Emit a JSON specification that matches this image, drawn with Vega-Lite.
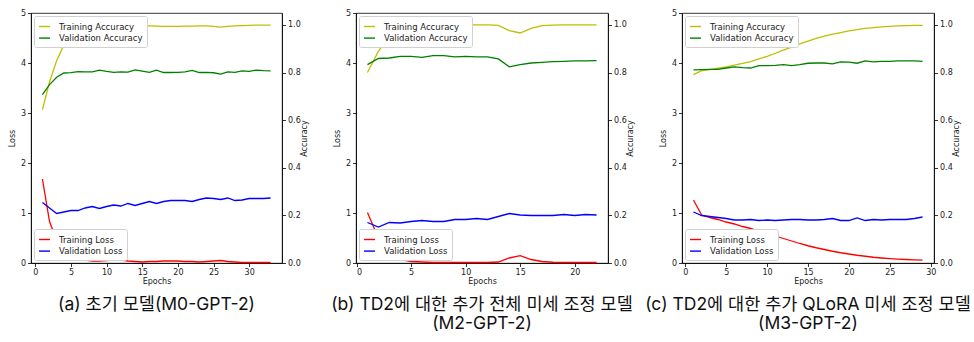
{
  "$schema": "https://vega.github.io/schema/vega-lite/v6.json",
  "background": "white",
  "padding": {"left": 8, "top": 8, "right": 0, "bottom": 0},
  "bounds": "flush",
  "spacing": 74,
  "datasets": {
    "a": [
      {"e":1,"Training Accuracy":0.644,"Validation Accuracy":0.707,"Training Loss":1.68,"Validation Loss":1.21},
      {"e":2,"Training Accuracy":0.76,"Validation Accuracy":0.749,"Training Loss":0.83,"Validation Loss":1.10},
      {"e":3,"Training Accuracy":0.85,"Validation Accuracy":0.78,"Training Loss":0.45,"Validation Loss":0.99},
      {"e":4,"Training Accuracy":0.915,"Validation Accuracy":0.798,"Training Loss":0.25,"Validation Loss":1.02},
      {"e":5,"Training Accuracy":0.96,"Validation Accuracy":0.800,"Training Loss":0.15,"Validation Loss":1.05},
      {"e":6,"Training Accuracy":0.98,"Validation Accuracy":0.804,"Training Loss":0.09,"Validation Loss":1.05},
      {"e":7,"Training Accuracy":0.99,"Validation Accuracy":0.803,"Training Loss":0.06,"Validation Loss":1.10},
      {"e":8,"Training Accuracy":0.995,"Validation Accuracy":0.803,"Training Loss":0.04,"Validation Loss":1.13},
      {"e":9,"Training Accuracy":0.997,"Validation Accuracy":0.810,"Training Loss":0.04,"Validation Loss":1.09},
      {"e":10,"Training Accuracy":0.998,"Validation Accuracy":0.805,"Training Loss":0.05,"Validation Loss":1.13},
      {"e":11,"Training Accuracy":0.998,"Validation Accuracy":0.801,"Training Loss":0.06,"Validation Loss":1.16},
      {"e":12,"Training Accuracy":0.999,"Validation Accuracy":0.803,"Training Loss":0.06,"Validation Loss":1.14},
      {"e":13,"Training Accuracy":0.999,"Validation Accuracy":0.802,"Training Loss":0.04,"Validation Loss":1.19},
      {"e":14,"Training Accuracy":0.998,"Validation Accuracy":0.811,"Training Loss":0.03,"Validation Loss":1.15},
      {"e":15,"Training Accuracy":0.997,"Validation Accuracy":0.806,"Training Loss":0.02,"Validation Loss":1.19},
      {"e":16,"Training Accuracy":0.996,"Validation Accuracy":0.801,"Training Loss":0.03,"Validation Loss":1.23},
      {"e":17,"Training Accuracy":0.995,"Validation Accuracy":0.810,"Training Loss":0.03,"Validation Loss":1.19},
      {"e":18,"Training Accuracy":0.994,"Validation Accuracy":0.800,"Training Loss":0.04,"Validation Loss":1.23},
      {"e":19,"Training Accuracy":0.994,"Validation Accuracy":0.800,"Training Loss":0.04,"Validation Loss":1.25},
      {"e":20,"Training Accuracy":0.994,"Validation Accuracy":0.801,"Training Loss":0.04,"Validation Loss":1.25},
      {"e":21,"Training Accuracy":0.995,"Validation Accuracy":0.803,"Training Loss":0.03,"Validation Loss":1.25},
      {"e":22,"Training Accuracy":0.995,"Validation Accuracy":0.809,"Training Loss":0.03,"Validation Loss":1.23},
      {"e":23,"Training Accuracy":0.996,"Validation Accuracy":0.800,"Training Loss":0.02,"Validation Loss":1.27},
      {"e":24,"Training Accuracy":0.996,"Validation Accuracy":0.801,"Training Loss":0.03,"Validation Loss":1.30},
      {"e":25,"Training Accuracy":0.994,"Validation Accuracy":0.799,"Training Loss":0.04,"Validation Loss":1.29},
      {"e":26,"Training Accuracy":0.991,"Validation Accuracy":0.793,"Training Loss":0.05,"Validation Loss":1.27},
      {"e":27,"Training Accuracy":0.994,"Validation Accuracy":0.803,"Training Loss":0.03,"Validation Loss":1.30},
      {"e":28,"Training Accuracy":0.996,"Validation Accuracy":0.801,"Training Loss":0.02,"Validation Loss":1.25},
      {"e":29,"Training Accuracy":0.997,"Validation Accuracy":0.807,"Training Loss":0.01,"Validation Loss":1.26},
      {"e":30,"Training Accuracy":0.998,"Validation Accuracy":0.805,"Training Loss":0.01,"Validation Loss":1.29},
      {"e":31,"Training Accuracy":0.999,"Validation Accuracy":0.810,"Training Loss":0.01,"Validation Loss":1.29},
      {"e":32,"Training Accuracy":0.999,"Validation Accuracy":0.808,"Training Loss":0.01,"Validation Loss":1.29},
      {"e":33,"Training Accuracy":0.999,"Validation Accuracy":0.807,"Training Loss":0.01,"Validation Loss":1.30}
    ],
    "b": [
      {"e":1,"Training Accuracy":0.80,"Validation Accuracy":0.833,"Training Loss":1.01,"Validation Loss":0.81},
      {"e":2,"Training Accuracy":0.889,"Validation Accuracy":0.859,"Training Loss":0.50,"Validation Loss":0.72},
      {"e":3,"Training Accuracy":0.952,"Validation Accuracy":0.861,"Training Loss":0.20,"Validation Loss":0.81},
      {"e":4,"Training Accuracy":0.985,"Validation Accuracy":0.868,"Training Loss":0.07,"Validation Loss":0.80},
      {"e":5,"Training Accuracy":0.995,"Validation Accuracy":0.868,"Training Loss":0.03,"Validation Loss":0.83},
      {"e":6,"Training Accuracy":0.998,"Validation Accuracy":0.864,"Training Loss":0.02,"Validation Loss":0.85},
      {"e":7,"Training Accuracy":0.999,"Validation Accuracy":0.871,"Training Loss":0.01,"Validation Loss":0.83},
      {"e":8,"Training Accuracy":0.999,"Validation Accuracy":0.871,"Training Loss":0.01,"Validation Loss":0.83},
      {"e":9,"Training Accuracy":0.999,"Validation Accuracy":0.866,"Training Loss":0.01,"Validation Loss":0.87},
      {"e":10,"Training Accuracy":1.0,"Validation Accuracy":0.868,"Training Loss":0.01,"Validation Loss":0.87},
      {"e":11,"Training Accuracy":1.0,"Validation Accuracy":0.866,"Training Loss":0.01,"Validation Loss":0.89},
      {"e":12,"Training Accuracy":1.0,"Validation Accuracy":0.866,"Training Loss":0.01,"Validation Loss":0.87},
      {"e":13,"Training Accuracy":0.998,"Validation Accuracy":0.857,"Training Loss":0.02,"Validation Loss":0.93},
      {"e":14,"Training Accuracy":0.976,"Validation Accuracy":0.824,"Training Loss":0.10,"Validation Loss":0.99},
      {"e":15,"Training Accuracy":0.966,"Validation Accuracy":0.833,"Training Loss":0.147,"Validation Loss":0.96},
      {"e":16,"Training Accuracy":0.985,"Validation Accuracy":0.840,"Training Loss":0.07,"Validation Loss":0.95},
      {"e":17,"Training Accuracy":0.997,"Validation Accuracy":0.843,"Training Loss":0.03,"Validation Loss":0.95},
      {"e":18,"Training Accuracy":0.999,"Validation Accuracy":0.846,"Training Loss":0.015,"Validation Loss":0.95},
      {"e":19,"Training Accuracy":1.0,"Validation Accuracy":0.847,"Training Loss":0.01,"Validation Loss":0.97},
      {"e":20,"Training Accuracy":1.0,"Validation Accuracy":0.849,"Training Loss":0.01,"Validation Loss":0.95},
      {"e":21,"Training Accuracy":1.0,"Validation Accuracy":0.849,"Training Loss":0.01,"Validation Loss":0.97},
      {"e":22,"Training Accuracy":1.0,"Validation Accuracy":0.850,"Training Loss":0.01,"Validation Loss":0.96}
    ],
    "c": [
      {"e":1,"Training Accuracy":0.791,"Validation Accuracy":0.811,"Training Loss":1.26,"Validation Loss":1.02},
      {"e":2,"Training Accuracy":0.808,"Validation Accuracy":0.812,"Training Loss":0.96,"Validation Loss":0.95},
      {"e":3,"Training Accuracy":0.812,"Validation Accuracy":0.813,"Training Loss":0.91,"Validation Loss":0.93},
      {"e":4,"Training Accuracy":0.818,"Validation Accuracy":0.813,"Training Loss":0.87,"Validation Loss":0.91},
      {"e":5,"Training Accuracy":0.824,"Validation Accuracy":0.819,"Training Loss":0.82,"Validation Loss":0.89},
      {"e":6,"Training Accuracy":0.831,"Validation Accuracy":0.824,"Training Loss":0.78,"Validation Loss":0.86},
      {"e":7,"Training Accuracy":0.838,"Validation Accuracy":0.821,"Training Loss":0.73,"Validation Loss":0.86},
      {"e":8,"Training Accuracy":0.846,"Validation Accuracy":0.819,"Training Loss":0.69,"Validation Loss":0.87},
      {"e":9,"Training Accuracy":0.857,"Validation Accuracy":0.829,"Training Loss":0.64,"Validation Loss":0.85},
      {"e":10,"Training Accuracy":0.868,"Validation Accuracy":0.829,"Training Loss":0.59,"Validation Loss":0.86},
      {"e":11,"Training Accuracy":0.881,"Validation Accuracy":0.830,"Training Loss":0.54,"Validation Loss":0.85},
      {"e":12,"Training Accuracy":0.894,"Validation Accuracy":0.833,"Training Loss":0.49,"Validation Loss":0.86},
      {"e":13,"Training Accuracy":0.907,"Validation Accuracy":0.829,"Training Loss":0.44,"Validation Loss":0.87},
      {"e":14,"Training Accuracy":0.920,"Validation Accuracy":0.833,"Training Loss":0.39,"Validation Loss":0.87},
      {"e":15,"Training Accuracy":0.932,"Validation Accuracy":0.839,"Training Loss":0.345,"Validation Loss":0.86},
      {"e":16,"Training Accuracy":0.943,"Validation Accuracy":0.840,"Training Loss":0.305,"Validation Loss":0.86},
      {"e":17,"Training Accuracy":0.953,"Validation Accuracy":0.840,"Training Loss":0.27,"Validation Loss":0.87},
      {"e":18,"Training Accuracy":0.961,"Validation Accuracy":0.836,"Training Loss":0.235,"Validation Loss":0.89},
      {"e":19,"Training Accuracy":0.968,"Validation Accuracy":0.845,"Training Loss":0.205,"Validation Loss":0.85},
      {"e":20,"Training Accuracy":0.975,"Validation Accuracy":0.844,"Training Loss":0.18,"Validation Loss":0.85},
      {"e":21,"Training Accuracy":0.980,"Validation Accuracy":0.839,"Training Loss":0.155,"Validation Loss":0.90},
      {"e":22,"Training Accuracy":0.985,"Validation Accuracy":0.849,"Training Loss":0.135,"Validation Loss":0.85},
      {"e":23,"Training Accuracy":0.989,"Validation Accuracy":0.845,"Training Loss":0.115,"Validation Loss":0.87},
      {"e":24,"Training Accuracy":0.992,"Validation Accuracy":0.847,"Training Loss":0.10,"Validation Loss":0.86},
      {"e":25,"Training Accuracy":0.994,"Validation Accuracy":0.847,"Training Loss":0.088,"Validation Loss":0.87},
      {"e":26,"Training Accuracy":0.996,"Validation Accuracy":0.849,"Training Loss":0.078,"Validation Loss":0.87},
      {"e":27,"Training Accuracy":0.997,"Validation Accuracy":0.849,"Training Loss":0.07,"Validation Loss":0.87},
      {"e":28,"Training Accuracy":0.998,"Validation Accuracy":0.849,"Training Loss":0.063,"Validation Loss":0.89},
      {"e":29,"Training Accuracy":0.998,"Validation Accuracy":0.847,"Training Loss":0.057,"Validation Loss":0.92}
    ]
  },
  "hconcat": [
    {
      "width": 251, "height": 250,
      "data": {"name": "a"},
      "title": {"text": "(a) 초기 모델(M0-GPT-2)"},
      "layer": [
        {
          "transform": [{"fold": ["Training Loss", "Validation Loss"], "as": ["s", "v"]}],
          "mark": {"type": "line", "strokeWidth": 1.3},
          "encoding": {
            "x": {"field": "e", "type": "quantitative", "scale": {"domain": [-0.6, 34.6], "nice": false, "zero": false}, "axis": {"values": [0,5,10,15,20,25,30], "title": "Epochs", "titlePadding": 1}},
            "y": {"field": "v", "type": "quantitative", "scale": {"domain": [0, 5], "nice": false}, "axis": {"orient": "left", "values": [0,1,2,3,4,5], "title": "Loss"}},
            "color": {"field": "s", "type": "nominal", "scale": {"domain": ["Training Loss", "Validation Loss"], "range": ["#ff0000", "#0000ff"]}, "legend": {"title": null, "orient": "bottom-left"}}
          }
        },
        {
          "transform": [{"fold": ["Training Accuracy", "Validation Accuracy"], "as": ["s", "v"]}],
          "mark": {"type": "line", "strokeWidth": 1.3},
          "encoding": {
            "x": {"field": "e", "type": "quantitative"},
            "y": {"field": "v", "type": "quantitative", "scale": {"domain": [0, 1.05], "nice": false}, "axis": {"orient": "right", "values": [0,0.2,0.4,0.6,0.8,1.0], "format": ".1f", "title": "Accuracy", "titleAngle": 270, "titleBaseline": "top", "titlePadding": 0}},
            "stroke": {"field": "s", "type": "nominal", "scale": {"domain": ["Training Accuracy", "Validation Accuracy"], "range": ["#bfbf00", "#008000"]}, "legend": {"title": null, "orient": "top-left"}}
          }
        }
      ],
      "resolve": {"scale": {"y": "independent"}}
    },
    {
      "width": 252, "height": 250,
      "data": {"name": "b"},
      "title": {"text": ["(b) TD2에 대한 추가 전체 미세 조정 모델", "(M2-GPT-2)"]},
      "layer": [
        {
          "transform": [{"fold": ["Training Loss", "Validation Loss"], "as": ["s", "v"]}],
          "mark": {"type": "line", "strokeWidth": 1.3},
          "encoding": {
            "x": {"field": "e", "type": "quantitative", "scale": {"domain": [-0.05, 23.05], "nice": false, "zero": false}, "axis": {"values": [0,5,10,15,20], "title": "Epochs", "titlePadding": 1}},
            "y": {"field": "v", "type": "quantitative", "scale": {"domain": [0, 5], "nice": false}, "axis": {"orient": "left", "values": [0,1,2,3,4,5], "title": "Loss"}},
            "color": {"field": "s", "type": "nominal", "scale": {"domain": ["Training Loss", "Validation Loss"], "range": ["#ff0000", "#0000ff"]}, "legend": {"title": null, "orient": "bottom-left"}}
          }
        },
        {
          "transform": [{"fold": ["Training Accuracy", "Validation Accuracy"], "as": ["s", "v"]}],
          "mark": {"type": "line", "strokeWidth": 1.3},
          "encoding": {
            "x": {"field": "e", "type": "quantitative"},
            "y": {"field": "v", "type": "quantitative", "scale": {"domain": [0, 1.05], "nice": false}, "axis": {"orient": "right", "values": [0,0.2,0.4,0.6,0.8,1.0], "format": ".1f", "title": "Accuracy", "titleAngle": 270, "titleBaseline": "top", "titlePadding": 0}},
            "stroke": {"field": "s", "type": "nominal", "scale": {"domain": ["Training Accuracy", "Validation Accuracy"], "range": ["#bfbf00", "#008000"]}, "legend": {"title": null, "orient": "top-left"}}
          }
        }
      ],
      "resolve": {"scale": {"y": "independent"}}
    },
    {
      "width": 252, "height": 250,
      "data": {"name": "c"},
      "title": {"text": ["(c) TD2에 대한 추가 QLoRA 미세 조정 모델", "(M3-GPT-2)"]},
      "layer": [
        {
          "transform": [{"fold": ["Training Loss", "Validation Loss"], "as": ["s", "v"]}],
          "mark": {"type": "line", "strokeWidth": 1.3},
          "encoding": {
            "x": {"field": "e", "type": "quantitative", "scale": {"domain": [-0.4, 30.4], "nice": false, "zero": false}, "axis": {"values": [0,5,10,15,20,25,30], "title": "Epochs", "titlePadding": 1}},
            "y": {"field": "v", "type": "quantitative", "scale": {"domain": [0, 5], "nice": false}, "axis": {"orient": "left", "values": [0,1,2,3,4,5], "title": "Loss"}},
            "color": {"field": "s", "type": "nominal", "scale": {"domain": ["Training Loss", "Validation Loss"], "range": ["#ff0000", "#0000ff"]}, "legend": {"title": null, "orient": "bottom-left"}}
          }
        },
        {
          "transform": [{"fold": ["Training Accuracy", "Validation Accuracy"], "as": ["s", "v"]}],
          "mark": {"type": "line", "strokeWidth": 1.3},
          "encoding": {
            "x": {"field": "e", "type": "quantitative"},
            "y": {"field": "v", "type": "quantitative", "scale": {"domain": [0, 1.05], "nice": false}, "axis": {"orient": "right", "values": [0,0.2,0.4,0.6,0.8,1.0], "format": ".1f", "title": "Accuracy", "titleAngle": 270, "titleBaseline": "top", "titlePadding": 0}},
            "stroke": {"field": "s", "type": "nominal", "scale": {"domain": ["Training Accuracy", "Validation Accuracy"], "range": ["#bfbf00", "#008000"]}, "legend": {"title": null, "orient": "top-left"}}
          }
        }
      ],
      "resolve": {"scale": {"y": "independent"}}
    }
  ],
  "resolve": {"scale": {"color": "independent", "stroke": "independent"}, "legend": {"color": "independent", "stroke": "independent"}},
  "config": {
    "font": "DejaVu Sans",
    "view": {"stroke": "#000", "strokeWidth": 0.8},
    "axis": {"grid": false, "domainColor": "#000", "domainWidth": 0.8, "tickColor": "#000", "tickWidth": 0.8, "tickSize": 3.5, "labelFont": "DejaVu Sans", "labelFontSize": 8, "labelColor": "#222", "titleFont": "DejaVu Sans", "titleFontSize": 8, "titleFontWeight": "normal", "titleColor": "#222", "labelPadding": 2, "titlePadding": 4},
    "legend": {"labelFont": "DejaVu Sans", "labelFontSize": 8.5, "labelColor": "#222", "symbolType": "stroke", "symbolSize": 121, "symbolStrokeWidth": 1.4, "fillColor": "white", "strokeColor": "#d0d0d0", "padding": 4, "cornerRadius": 2, "rowPadding": 0.6, "offset": 3, "labelOffset": 8},
    "title": {"font": "Inter, Noto Sans CJK KR", "fontSize": 17.5, "fontWeight": "normal", "color": "#111", "orient": "bottom", "anchor": "middle", "offset": 10, "lineHeight": 19}
  }
}
